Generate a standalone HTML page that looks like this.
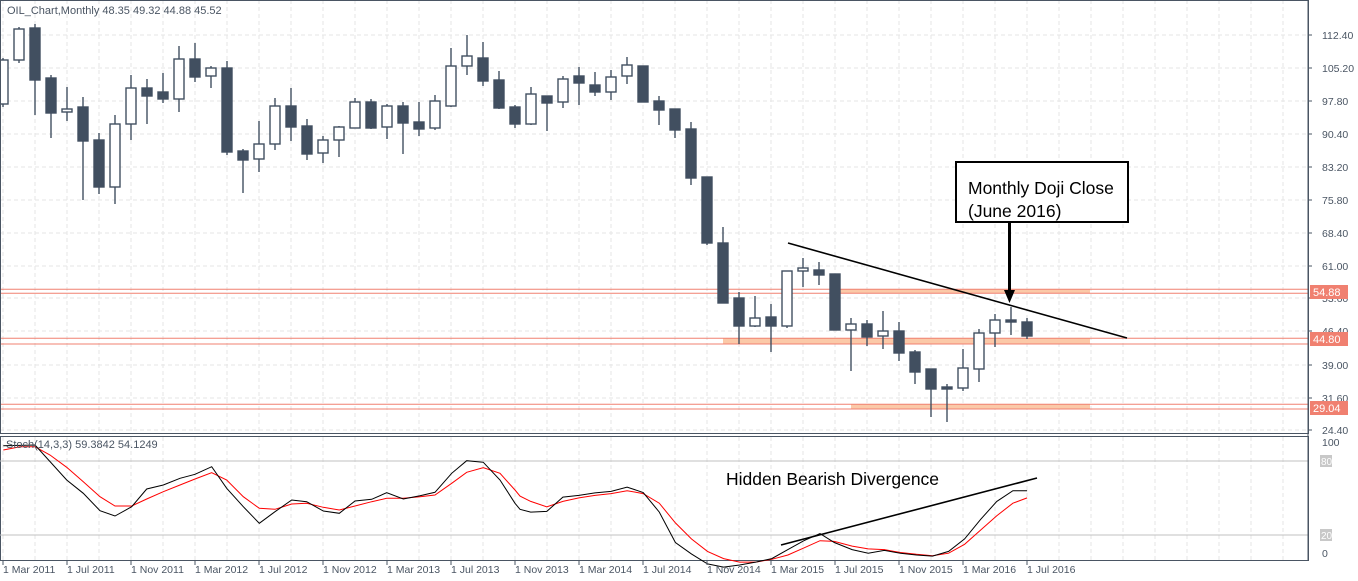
<!DOCTYPE html>
<html><head><meta charset="utf-8"><style>
html,body{margin:0;padding:0;background:#fff;}
svg{display:block;font-family:"Liberation Sans",sans-serif;}
</style></head><body>
<svg id="s" width="1358" height="581" xmlns="http://www.w3.org/2000/svg"></svg>
<script>
const s=document.getElementById('s');let h='';
for(let x=3;x<1308;x+=32){h+=`<line x1="${x}" y1="0" x2="${x}" y2="433" stroke="#e6e6e6" stroke-dasharray="4,3"/>`;h+=`<line x1="${x}" y1="437" x2="${x}" y2="560" stroke="#e6e6e6" stroke-dasharray="4,3"/>`;}
const pl=[[112.40,35],[105.20,68],[97.80,101],[90.40,134],[83.20,167],[75.80,200],[68.40,233],[61.00,266],[53.60,298],[46.40,331],[39.00,365],[31.60,398],[24.40,430]];
pl.forEach(p=>{h+=`<line x1="0" y1="${p[1]}" x2="1308" y2="${p[1]}" stroke="#e6e6e6" stroke-dasharray="4,3"/>`;});
[[289.3,293.3,840],[338.3,344,723],[404.3,409,851]].forEach(b=>{
h+=`<rect x="${b[2]}" y="${b[0]}" width="${1090-b[2]}" height="${b[1]-b[0]}" fill="#fbc9a8"/>`;
h+=`<line x1="0" y1="${b[0]}" x2="1308" y2="${b[0]}" stroke="#f08070"/><line x1="0" y1="${b[1]}" x2="1308" y2="${b[1]}" stroke="#f08070"/>`;});
const c=[[3,60,104,58,107,1],[19,29,60,27,63,1],[35,28,80,24,115,0],[51,78,113,75,138,0],[67,109,112,87,121,1],[83,107,141,97,200,0],[99,140,187,133,194,0],[115,124,187,115,204,1],[131,88,124,75,140,1],[147,88,96,79,124,0],[163,92,99,73,103,0],[179,59,99,46,112,1],[195,59,77,43,82,0],[211,68,76,66,88,1],[227,68,152,61,155,0],[243,151,160,149,193,0],[259,144,159,121,172,1],[275,106,144,98,150,1],[291,106,127,88,141,0],[307,126,154,119,160,0],[323,140,153,136,163,1],[339,127,140,126,157,1],
[355,102,128,98,128,1],[371,102,128,99,129,0],[387,106,127,104,139,1],[403,106,123,102,154,0],[419,122,129,102,136,0],[435,101,128,95,130,1],[451,66,106,48,107,1],[467,56,66,35,75,1],[483,58,81,42,86,0],[499,80,108,71,109,0],[515,107,124,105,128,0],[531,94,124,87,125,1],[547,96,103,96,131,0],[563,79,102,76,108,1],[579,76,83,67,105,0],[595,85,92,72,96,0],[611,77,92,70,100,1],[627,65,76,57,84,1],[643,66,102,66,102,0],[659,101,110,96,125,0],[675,109,130,109,138,0],[691,129,178,122,185,0],[707,177,243,177,245,0],
[723,243,303,227,303,0],[739,298,326,292,344,0],[755,318,326,296,327,1],[771,317,326,304,352,0],[787,271,326,271,328,1],[803,268,271,258,287,1],[819,270,275,262,285,0],[835,274,330,274,330,0],[851,324,330,318,371,1],[867,324,337,320,346,0],[883,331,336,311,349,1],[899,331,353,322,361,0],[915,352,372,350,384,0],[931,369,389,369,417,0],[947,387,389,384,422,0],[963,368,388,349,391,1],[979,333,369,329,382,1],[995,320,333,314,347,1],[1011,320,322,307,335,0],[1027,322,336,318,339,0]];
c.forEach(k=>{const[x,t,b,hi,lo,w]=k;
h+=`<line x1="${x}" y1="${hi}" x2="${x}" y2="${lo}" stroke="#414f60" stroke-width="1.4"/>`;
h+=`<rect x="${x-5}" y="${t}" width="10" height="${Math.max(b-t,1.5)}" fill="${w?'#fff':'#414f60'}" stroke="#414f60" stroke-width="1.4"/>`;});
h+=`<line x1="788" y1="243" x2="1127" y2="338" stroke="#000" stroke-width="1.6"/>`;
h+=`<rect x="956" y="162" width="172" height="60" fill="#fff" stroke="#000" stroke-width="2"/>`;
h+=`<text x="968" y="194" font-size="17.5" fill="#000">Monthly Doji Close</text><text x="968" y="217" font-size="17.5" fill="#000">(June 2016)</text>`;
h+=`<polygon points="1008,222 1011,222 1011,290 1015,290 1009.5,303 1004,290 1008,290" fill="#000"/>`;
h+=`<rect x="0.5" y="0.5" width="1308" height="433" fill="none" stroke="#4a5563"/>`;
h+=`<rect x="0.5" y="436.5" width="1308" height="124" fill="none" stroke="#4a5563"/>`;
h+=`<text x="7" y="14" font-size="11" fill="#4a5563">OIL_Chart,Monthly  48.35 49.32 44.88 45.52</text>`;
pl.forEach(p=>{h+=`<line x1="1308" y1="${p[1]}" x2="1312" y2="${p[1]}" stroke="#4a5563"/><text x="1322" y="${p[1]+4}" font-size="10.5" fill="#4a5563">${p[0].toFixed(2)}</text>`;});
[[292,'54.88'],[339,'44.80'],[408,'29.04']].forEach(t=>{h+=`<rect x="1310" y="${t[0]-7}" width="38" height="14" fill="#f08070"/><text x="1313" y="${t[0]+4}" font-size="11" fill="#fff">${t[1]}</text>`;});
h+=`<line x1="0" y1="461" x2="1308" y2="461" stroke="#c0c0c0"/><line x1="0" y1="535" x2="1308" y2="535" stroke="#c0c0c0"/>`;
h+=`<text x="1322" y="446" font-size="10.5" fill="#4a5563">100</text><rect x="1320" y="455" width="12" height="12" fill="#c8c8c8"/><text x="1321" y="465" font-size="10" fill="#fff">80</text><rect x="1320" y="529" width="12" height="12" fill="#c8c8c8"/><text x="1321" y="539" font-size="10" fill="#fff">20</text><text x="1322" y="557" font-size="10.5" fill="#4a5563">0</text>`;
const z7b=[[10,47],[105,45],[200,150],[250,190],[300,242],[345,258],[395,230],[440,177],[490,165],[540,145],[585,133],[635,110],[680,175],[730,230],[778,280],[825,245],[875,210],[920,215],[970,243],[1018,250],[1065,213],[1115,208],[1160,188],[1210,207],[1260,197],[1305,187],[1355,130],[1400,92],[1450,97],[1500,150],[1545,220]];
const z7r=[[10,60],[60,50],[105,50],[150,75],[200,112],[250,155],[300,200],[345,228],[395,228],[440,207],[490,185],[540,165],[585,147],[635,128],[680,150],[730,200],[778,235],[825,238],[875,222],[920,220],[970,232],[1018,240],[1065,228],[1115,215],[1160,205],[1210,205],[1260,200],[1305,195],[1355,160],[1400,127],[1450,113],[1500,130],[1545,180]];
const z8b=[[0,222],[30,230],[75,228],[120,188],[165,183],[210,176],[255,172],[300,160],[345,175],[390,230],[435,315],[480,347],[525,375],[570,384],[615,378],[660,370],[705,360],[750,335],[795,310],[840,290],[880,315],[930,335],[975,345],[1020,337],[1065,345],[1110,350],[1155,353],[1200,340],[1245,305],[1290,250],[1335,200],[1380,170],[1420,170]];
const z8r=[[0,185],[30,200],[75,215],[120,200],[165,190],[210,183],[255,178],[300,170],[345,178],[390,205],[435,260],[480,305],[525,340],[570,360],[615,370],[660,370],[705,362],[750,350],[795,330],[840,310],[880,312],[930,325],[975,333],[1020,335],[1065,343],[1110,348],[1155,352],[1200,345],[1245,320],[1290,280],[1335,240],[1380,205],[1420,190]];
const pt=(a,sc,ox)=>a.map(p=>(p[0]/sc+ox).toFixed(1)+','+(p[1]/sc+430).toFixed(1)).join(' ');
h+=`<polyline points="${pt(z7r,3,0)} ${pt(z8r,2.8,520)}" fill="none" stroke="#f00" stroke-width="1"/>`;
h+=`<polyline points="${pt(z7b,3,0)} ${pt(z8b,2.8,520)}" fill="none" stroke="#000" stroke-width="1"/>`;
h+=`<line x1="781" y1="545" x2="1037" y2="478" stroke="#000" stroke-width="1.6"/>`;
h+=`<text x="726" y="485" font-size="17.5" fill="#000">Hidden Bearish Divergence</text>`;
h+=`<text x="6" y="448" font-size="11" fill="#4a5563">Stoch(14,3,3) 59.3842 54.1249</text>`;
h+=`<line x1="1308" y1="0" x2="1308" y2="561" stroke="#4a5563"/>`;
const labs=['1 Mar 2011','1 Jul 2011','1 Nov 2011','1 Mar 2012','1 Jul 2012','1 Nov 2012','1 Mar 2013','1 Jul 2013','1 Nov 2013','1 Mar 2014','1 Jul 2014','1 Nov 2014','1 Mar 2015','1 Jul 2015','1 Nov 2015','1 Mar 2016','1 Jul 2016'];
labs.forEach((l,i)=>{const x=3+64*i;h+=`<line x1="${x}" y1="561" x2="${x}" y2="565" stroke="#4a5563"/><text x="${x}" y="573" font-size="10.5" fill="#4a5563">${l}</text>`;});
s.innerHTML=h;
</script>
</body></html>
